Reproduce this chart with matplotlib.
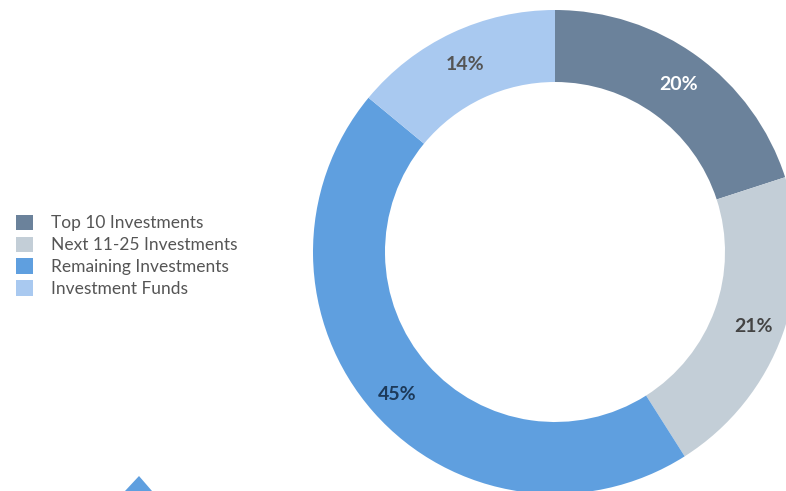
import matplotlib
matplotlib.use("Agg")
import matplotlib.pyplot as plt
from matplotlib.patches import Polygon, Patch
import numpy as np

categories = ["Top 10 Investments", "Next 11-25 Investments", "Remaining Investments", "Investment Funds"]
values = [20, 21, 45, 14]
pct_labels = ["20%", "21%", "45%", "14%"]
colors = ["#6b829b", "#c3ced7", "#5f9fdf", "#a9c9f0"]
label_colors = ["#ffffff", "#444444", "#1d3a5a", "#555555"]

W, H = 786, 491
fig = plt.figure(figsize=(W / 100, H / 100), dpi=100)
ax = fig.add_axes([0, 0, 1, 1])

cx, cy = 555, H - 252
R, w = 242, 72
wedges, _ = ax.pie(values, colors=colors, startangle=90, counterclock=False,
                   center=(cx, cy), radius=R, wedgeprops=dict(width=w, linewidth=0),
                   frame=False)
ang = 90.0
for v, lab, lc in zip(values, pct_labels, label_colors):
    span = v / sum(values) * 360
    mid = np.deg2rad(ang - span / 2)
    ang -= span
    rr = R - w / 2 + 5
    ax.text(cx + rr * np.cos(mid), cy + rr * np.sin(mid) - 3, lab, color=lc,
            ha="center", va="center", fontsize=14, fontweight="bold", family="Lato")

ax.set_xlim(0, W)
ax.set_ylim(0, H)
ax.set_aspect("equal")
ax.axis("off")

# small pointer triangle
ax.add_patch(Polygon([[125, 0], [152, 0], [139, H - 476]], closed=True,
                     facecolor="#5f9fdf", edgecolor="none"))

handles = [Patch(facecolor=c, edgecolor="none") for c in colors]
leg = fig.legend(handles, categories, loc="upper left",
                 bbox_to_anchor=(0 / W, 1 - 199 / H), frameon=False,
                 handlelength=1.0, handleheight=1.0, handletextpad=1.05,
                 labelspacing=0.3, prop={"family": "Lato", "size": 12.5})
for t in leg.get_texts():
    t.set_color("#555555")

fig.savefig("out.png", dpi=100)
